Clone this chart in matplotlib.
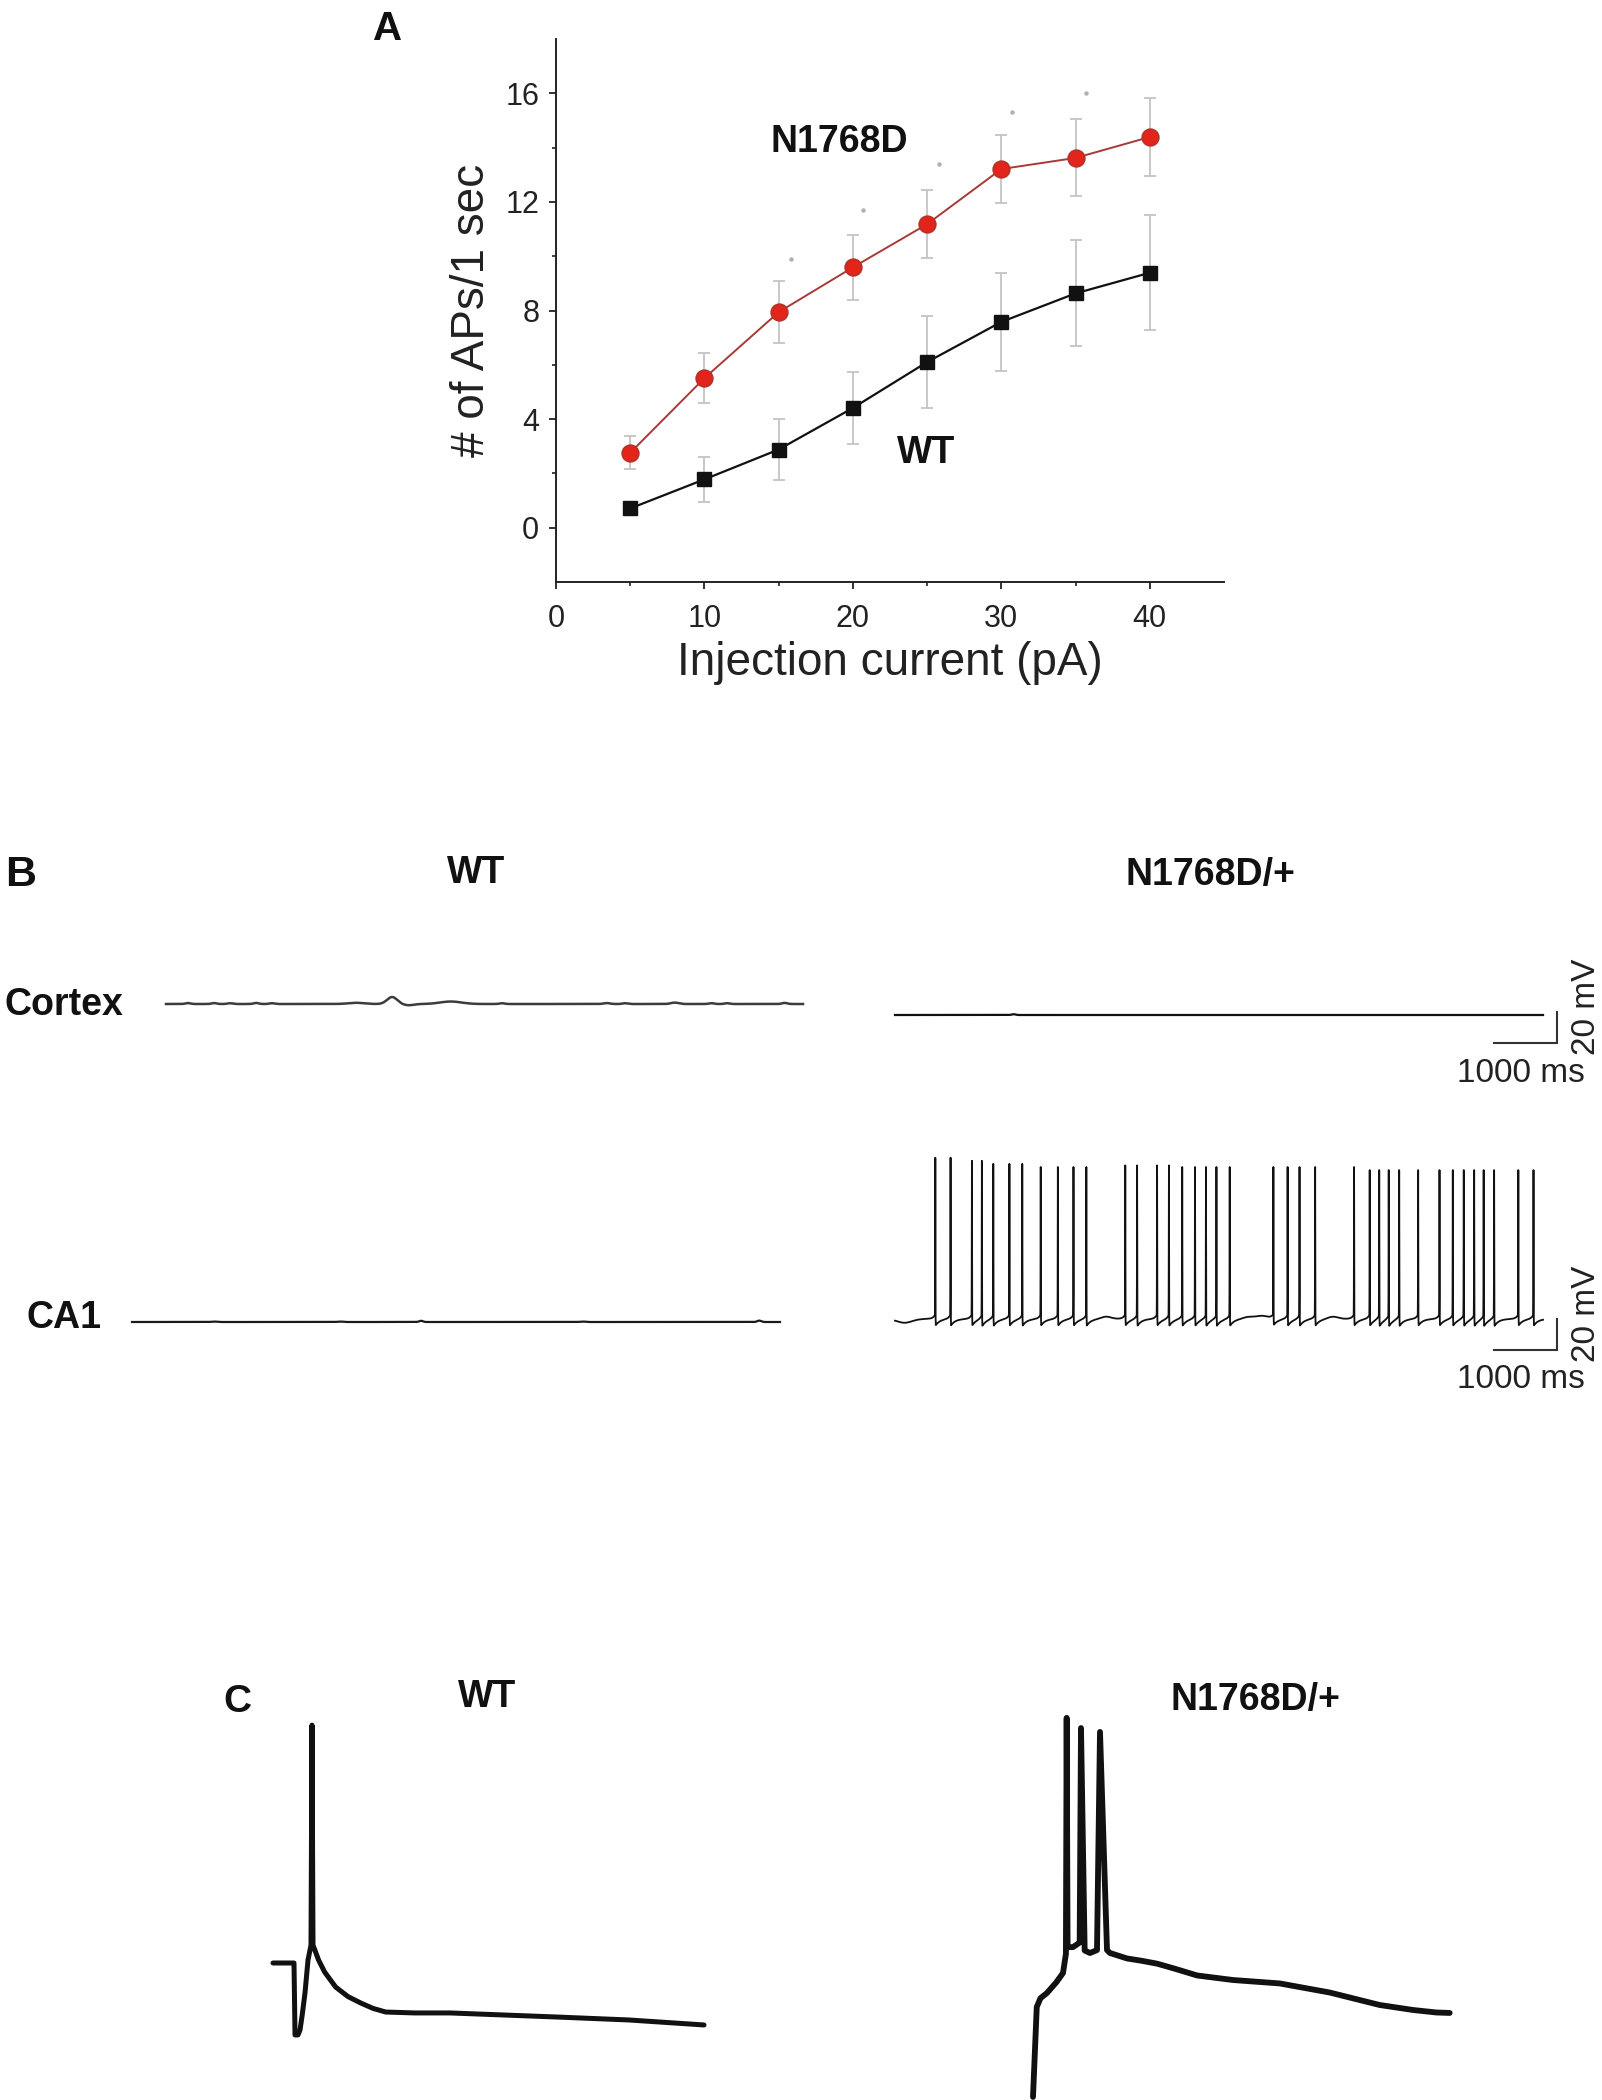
import numpy as np
import matplotlib
matplotlib.use("Agg")
import matplotlib.pyplot as plt

plt.rcParams['font.family'] = ['Liberation Sans', 'DejaVu Sans']

W, H = 1602, 2100

# ---------------- panel A: firing vs injected current ----------------
current_pa = [5, 10, 15, 20, 25, 30, 35, 40]
n1768d_aps = [2.76, 5.51, 7.94, 9.59, 11.18, 13.21, 13.62, 14.39]
n1768d_sem = [0.60, 0.93, 1.15, 1.19, 1.26, 1.26, 1.42, 1.44]
wt_aps = [0.71, 1.78, 2.88, 4.41, 6.10, 7.58, 8.63, 9.39]
wt_sem = [0.25, 0.83, 1.13, 1.34, 1.68, 1.79, 1.95, 2.12]
# faint significance marks above the mutant points
sig_x = [15.8, 20.7, 25.8, 30.7, 35.7]
sig_y = [9.9, 11.7, 13.4, 15.3, 16.0]

# ---------------- panel B: spontaneous activity (ms, mV) ----------------
rest_mv = -65
trace_len_ms = 10286
wt_ctx_len_ms = 10111
# WT cortex: small subthreshold events (time ms, size mV, width ms)
wt_ctx_t = [349, 764, 1014, 1429, 1678, 3007, 3589, 3850, 4520, 5334, 6996, 7286, 8075, 8657, 8906, 9820]
wt_ctx_mv = [0.6, 0.6, 0.5, 0.7, 0.5, 0.8, 4.5, -0.8, 1.6, 0.5, 0.6, 0.5, 0.9, 0.5, 0.5, 0.7]
wt_ctx_w = [40, 40, 40, 40, 40, 120, 80, 80, 170, 40, 50, 40, 60, 40, 40, 40]
# WT CA1
wt_ca1_t = [1300, 3300, 4587, 7150, 9955]
wt_ca1_mv = [0.3, 0.3, 0.8, 0.3, 0.9]
wt_ca1_w = [40, 40, 30, 40, 30]
# N1768D/+ cortex
mut_ctx_t = [1884]
mut_ctx_mv = [0.5]
mut_ctx_w = [30]
# N1768D/+ CA1: spike times and peaks
spike_t = [640, 882, 1221, 1379, 1560, 1816, 2020, 2313, 2585, 2833, 3037,
           3655, 3843, 4160, 4348, 4559, 4762, 4936, 5102, 5313,
           6006, 6232, 6421, 6669,
           7287, 7535, 7686, 7837, 8003, 8304, 8643, 8854, 9028, 9193, 9344, 9510, 9894, 10135]
spike_peak = [41, 41, 39, 39, 37, 37, 37, 35, 35, 35, 35,
              36, 36, 36, 36, 35, 35, 35, 35, 35,
              35, 35, 35, 35,
              35, 33, 33, 33, 33, 33, 33, 33, 33, 33, 33, 33, 33, 33]
mut_ca1_t = [150, 3350, 5600, 5820, 6950]
mut_ca1_mv = [-2.5, 1.5, 1.2, 2.0, 1.5]
mut_ca1_w = [120, 80, 80, 100, 80]

# ---------------- panel C: evoked responses (ms, mV) ----------------
wt_c_t = [0, 25.2, 26.4, 30.0, 32.4, 35.0, 38.4, 42.0, 45.6, 46.8, 48.0, 54.7, 62, 75.2,
          90, 105.2, 120, 135.2, 170, 212.4, 340.8, 427.2, 517.2]
wt_c_v = [-65, -65, -96.7, -96.7, -94.5, -88, -78.2, -63.7, -57.1, 39.8, -57.1, -63.7, -69,
          -75.6, -79.8, -82.6, -85, -86.6, -87, -87, -88.8, -90.1, -92.3]
mut_c_t = [0, 4.5, 9, 16.8, 28, 36, 39.5, 40.4, 41.5, 48, 56, 57.6, 62, 68.4, 76.8, 80.4,
           88.8, 92.4, 112.8, 130, 149, 170, 197, 240, 296, 356, 416, 456, 484, 500]
mut_c_v = [-124, -84.4, -80.5, -78.2, -73.5, -69.4, -61, 43, -58, -58, -56, 38.5, -59.5,
           -60.6, -59.3, 36.8, -59.3, -60.6, -63.0, -64.0, -65.3, -67.5, -70.5, -72.5,
           -74.0, -78.0, -83.5, -85.7, -86.8, -87]

fig = plt.figure(figsize=(W / 100, H / 100), dpi=100)


def px_axes(l, t, r, b):
    return fig.add_axes([l / W, 1 - b / H, (r - l) / W, (b - t) / H])


def trace_axes(box, origin, ms_px, mv_px):
    # box in pixels, origin = pixel of (t=0, v=rest)
    l, t, r, b = box
    ox, oy = origin
    ax = px_axes(l, t, r, b)
    ax.set_xlim((l - ox) * ms_px, (r - ox) * ms_px)
    ax.set_ylim(rest_mv - (b - oy) * mv_px, rest_mv + (oy - t) * mv_px)
    ax.axis('off')
    return ax


def fig_label(x, y, s, size=27, weight='bold', **kw):
    fig.text(x / W, 1 - y / H, s, ha='center', va='center', fontsize=size,
             fontweight=weight, color='#111111', **kw)


def events(t, times, sizes, widths):
    v = np.zeros_like(t)
    for tc, a, w in zip(times, sizes, widths):
        v += a * np.exp(-0.5 * ((t - tc) / w) ** 2)
    return v


# ---- A
axA = px_axes(556, 39, 1224, 582)
axA.errorbar(current_pa, wt_aps, yerr=wt_sem, fmt='none', ecolor='#c4c4c4',
             elinewidth=1.3, capsize=4, capthick=1.3, zorder=1)
axA.errorbar(current_pa, n1768d_aps, yerr=n1768d_sem, fmt='none', ecolor='#c4c4c4',
             elinewidth=1.3, capsize=4, capthick=1.3, zorder=1)
axA.plot(current_pa, wt_aps, color='#111111', lw=1.6, marker='s', ms=10,
         mfc='#111111', mec='#111111', zorder=3)
axA.plot(current_pa, n1768d_aps, color='#a83a36', lw=1.4, marker='o', ms=12,
         mfc='#e3241b', mec='#b5322a', mew=1.2, zorder=4)
axA.plot(sig_x, sig_y, ls='none', marker='o', ms=2.2, color='#b0b0b0', zorder=2)
axA.text(19.1, 14.2, 'N1768D', fontsize=27, fontweight='bold', ha='center', va='center', color='#111111')
axA.text(24.9, 2.76, 'WT', fontsize=27, fontweight='bold', ha='center', va='center', color='#111111')
axA.set_xlim(0, 45)
axA.set_ylim(-2, 18)
axA.set_xticks([0, 10, 20, 30, 40])
axA.set_xticks([5, 15, 25, 35], minor=True)
axA.set_yticks([0, 4, 8, 12, 16])
axA.set_yticks([2, 6, 10, 14], minor=True)
for side in ['top', 'right']:
    axA.spines[side].set_visible(False)
for side in ['left', 'bottom']:
    axA.spines[side].set_linewidth(1.4)
    axA.spines[side].set_color('#222222')
axA.tick_params(which='major', direction='out', length=5, width=1.3, labelsize=22, colors='#222222')
axA.tick_params(which='minor', direction='out', length=3, width=1.2, colors='#222222')
axA.tick_params(axis='x', which='major', pad=11)
axA.tick_params(axis='y', which='major', pad=7)
axA.set_xlabel('Injection current (pA)', fontsize=33, labelpad=5, color='#222222')
axA.set_ylabel('# of APs/1 sec', fontsize=33, labelpad=8, color='#222222')

fig_label(388, 29, 'A', size=29)

# ---- B
MS_PX = 1000 / 63
MV_PX = 20 / 31
t = np.arange(0, trace_len_ms + 1, 1.0)
t_wt = np.arange(0, wt_ctx_len_ms + 1, 1.0)


def scale_bar(ax, t_end_ms):
    tb = t_end_ms + 14 * MS_PX
    vb = rest_mv - 28 * MV_PX
    ax.plot([tb - 1000, tb, tb], [vb, vb, vb + 20], color='#333333', lw=1.5,
            solid_joinstyle='miter', clip_on=False)
    ax.text(tb + 29 * MS_PX, vb - 12 * MV_PX, '20 mV', rotation=90, ha='center',
            va='bottom', fontsize=24, color='#222222')
    ax.text(tb - 500 - 5 * MS_PX, vb - 30 * MV_PX, '1000 ms', ha='center',
            va='center', fontsize=24, color='#222222')


ax = trace_axes((150, 940, 830, 1060), (166, 1004), MS_PX, MV_PX)
ax.plot(t_wt, rest_mv + events(t_wt, wt_ctx_t, wt_ctx_mv, wt_ctx_w), color='#3c3c3c', lw=1.8)

ax = trace_axes((110, 1270, 830, 1370), (132, 1322), MS_PX, MV_PX)
ax.plot(t, rest_mv + events(t, wt_ca1_t, wt_ca1_mv, wt_ca1_w), color='#1a1a1a', lw=1.6)

ax = trace_axes((870, 950, 1600, 1100), (895, 1015), MS_PX, MV_PX)
ax.plot(t, rest_mv + events(t, mut_ctx_t, mut_ctx_mv, mut_ctx_w), color='#111111', lw=1.6)
scale_bar(ax, trace_len_ms)

ax = trace_axes((870, 1120, 1600, 1400), (895, 1322), MS_PX, MV_PX)
sub = rest_mv + 2 + events(t, mut_ca1_t, mut_ca1_mv, mut_ca1_w)
for ts in spike_t:
    d = t - ts
    sub += np.where(d > 0, -4.5 * np.exp(-np.clip(d, 0, None) / 70), 3.0 * np.exp(np.clip(d, None, 0) / 35))
v_ca1 = sub.copy()
for ts, pk in zip(spike_t, spike_peak):
    i = int(ts)
    v_ca1 += (pk - sub[i]) * np.exp(-0.5 * ((t - ts) / 2.0) ** 2)
ax.plot(t, v_ca1, color='#111111', lw=1.3)
scale_bar(ax, trace_len_ms)

fig_label(21, 875, 'B', size=31)
fig_label(476, 873, 'WT')
fig_label(1210, 875, 'N1768D/+')
fig.text(4 / W, 1 - 1005 / H, 'Cortex', ha='left', va='center', fontsize=27,
         fontweight='bold', color='#111111')
fig.text(26 / W, 1 - 1318 / H, 'CA1', ha='left', va='center', fontsize=27,
         fontweight='bold', color='#111111')

# ---- C
C_MS_PX = 1.2
C_MV_PX = 1 / 2.27
ax = trace_axes((250, 1700, 760, 2070), (273, 1963), C_MS_PX, C_MV_PX)
ax.plot(wt_c_t, wt_c_v, color='#111111', lw=3.6, solid_joinstyle='round', solid_capstyle='round')
ax = trace_axes((1010, 1700, 1500, 2100), (1033, 1963), C_MS_PX, C_MV_PX)
ax.plot(mut_c_t, mut_c_v, color='#111111', lw=4.2, solid_joinstyle='round', solid_capstyle='round')

fig_label(237, 1702, 'C', size=28)
fig_label(487, 1697, 'WT')
fig_label(1255, 1700, 'N1768D/+')

fig.savefig('out.png', dpi=100, facecolor='white')
